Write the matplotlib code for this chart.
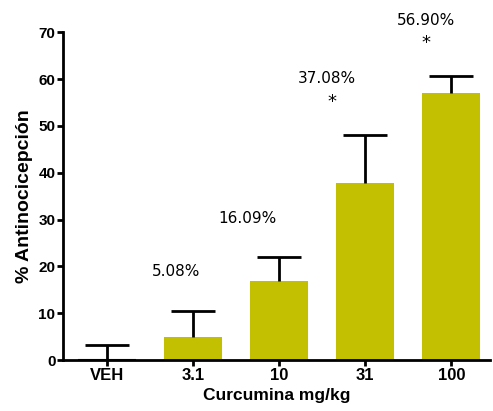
import matplotlib
matplotlib.use("Agg")
import matplotlib.pyplot as plt
import numpy as np

# DATA
doses = ["VEH", "3.1", "10", "31", "100"]
antinoc = [0.0, 4.9, 16.9, 37.8, 57.0]
sem = [3.3, 5.6, 5.1, 10.3, 3.6]
pct_labels = ["", "5.08%", "16.09%", "37.08%", "56.90%"]
signif = [False, False, False, True, True]

# STYLE
bar_color = "#c2c000"
label_dx = [0, -17, -32, -38, -25]   # pixel offset of the % text from the bar centre
star_dx = [0, 0, 0, -33, -25]

plt.rcParams["font.family"] = "Liberation Sans"

fig = plt.figure(figsize=(4.93, 4.11), dpi=100)
ax = fig.add_axes([0.128, 0.124, 0.866, 0.7974])

x = np.arange(len(doses))
edges = ["black" if v == 0 else "none" for v in antinoc]
ax.bar(x, antinoc, width=0.67, color=bar_color, edgecolor=edges, linewidth=1.5, zorder=2)

# upper error bars only
lower = np.zeros(len(sem))
eb = ax.errorbar(x, antinoc, yerr=[lower, sem], fmt="none", ecolor="black",
                 elinewidth=2.0, capsize=15.5, capthick=2.0, zorder=3)
eb[1][0].set_visible(False)

px = 0.72  # points per pixel at dpi 100

# percentage labels and asterisks
for i in range(len(doses)):
    top = antinoc[i] + sem[i]
    if pct_labels[i] == "":
        continue
    if signif[i]:
        ax.annotate("*", xy=(x[i], top), xytext=(star_dx[i] * px, 33 * px),
                    textcoords="offset points", ha="center", va="center",
                    fontsize=13, family="DejaVu Sans", annotation_clip=False)
        dy = 56
    else:
        dy = 39
    ax.annotate(pct_labels[i], xy=(x[i], top), xytext=(label_dx[i] * px, dy * px),
                textcoords="offset points", ha="center", va="center",
                fontsize=11, family="DejaVu Sans", annotation_clip=False)

ax.set_xlim(-0.51, 4.45)
ax.set_ylim(0, 70)
ax.set_yticks(np.arange(0, 71, 10))
ax.set_xticks(x)
ax.set_xticklabels(doses)

for lab in ax.get_yticklabels():
    lab.set_fontweight("bold")
    lab.set_fontsize(11)
for lab in ax.get_xticklabels():
    lab.set_fontweight("bold")
    lab.set_fontsize(12)

ax.spines["top"].set_visible(False)
ax.spines["right"].set_visible(False)
ax.spines["left"].set_linewidth(2.0)
ax.spines["bottom"].set_linewidth(2.0)
ax.tick_params(axis="both", direction="out", length=4, width=2.0, pad=1.5)

ax.set_xlabel("Curcumina mg/kg", fontsize=12.5, fontweight="bold", labelpad=4)
ax.set_ylabel("% Antinocicepción", fontsize=14, fontweight="bold", labelpad=4)

fig.savefig("out.png", dpi=100)
